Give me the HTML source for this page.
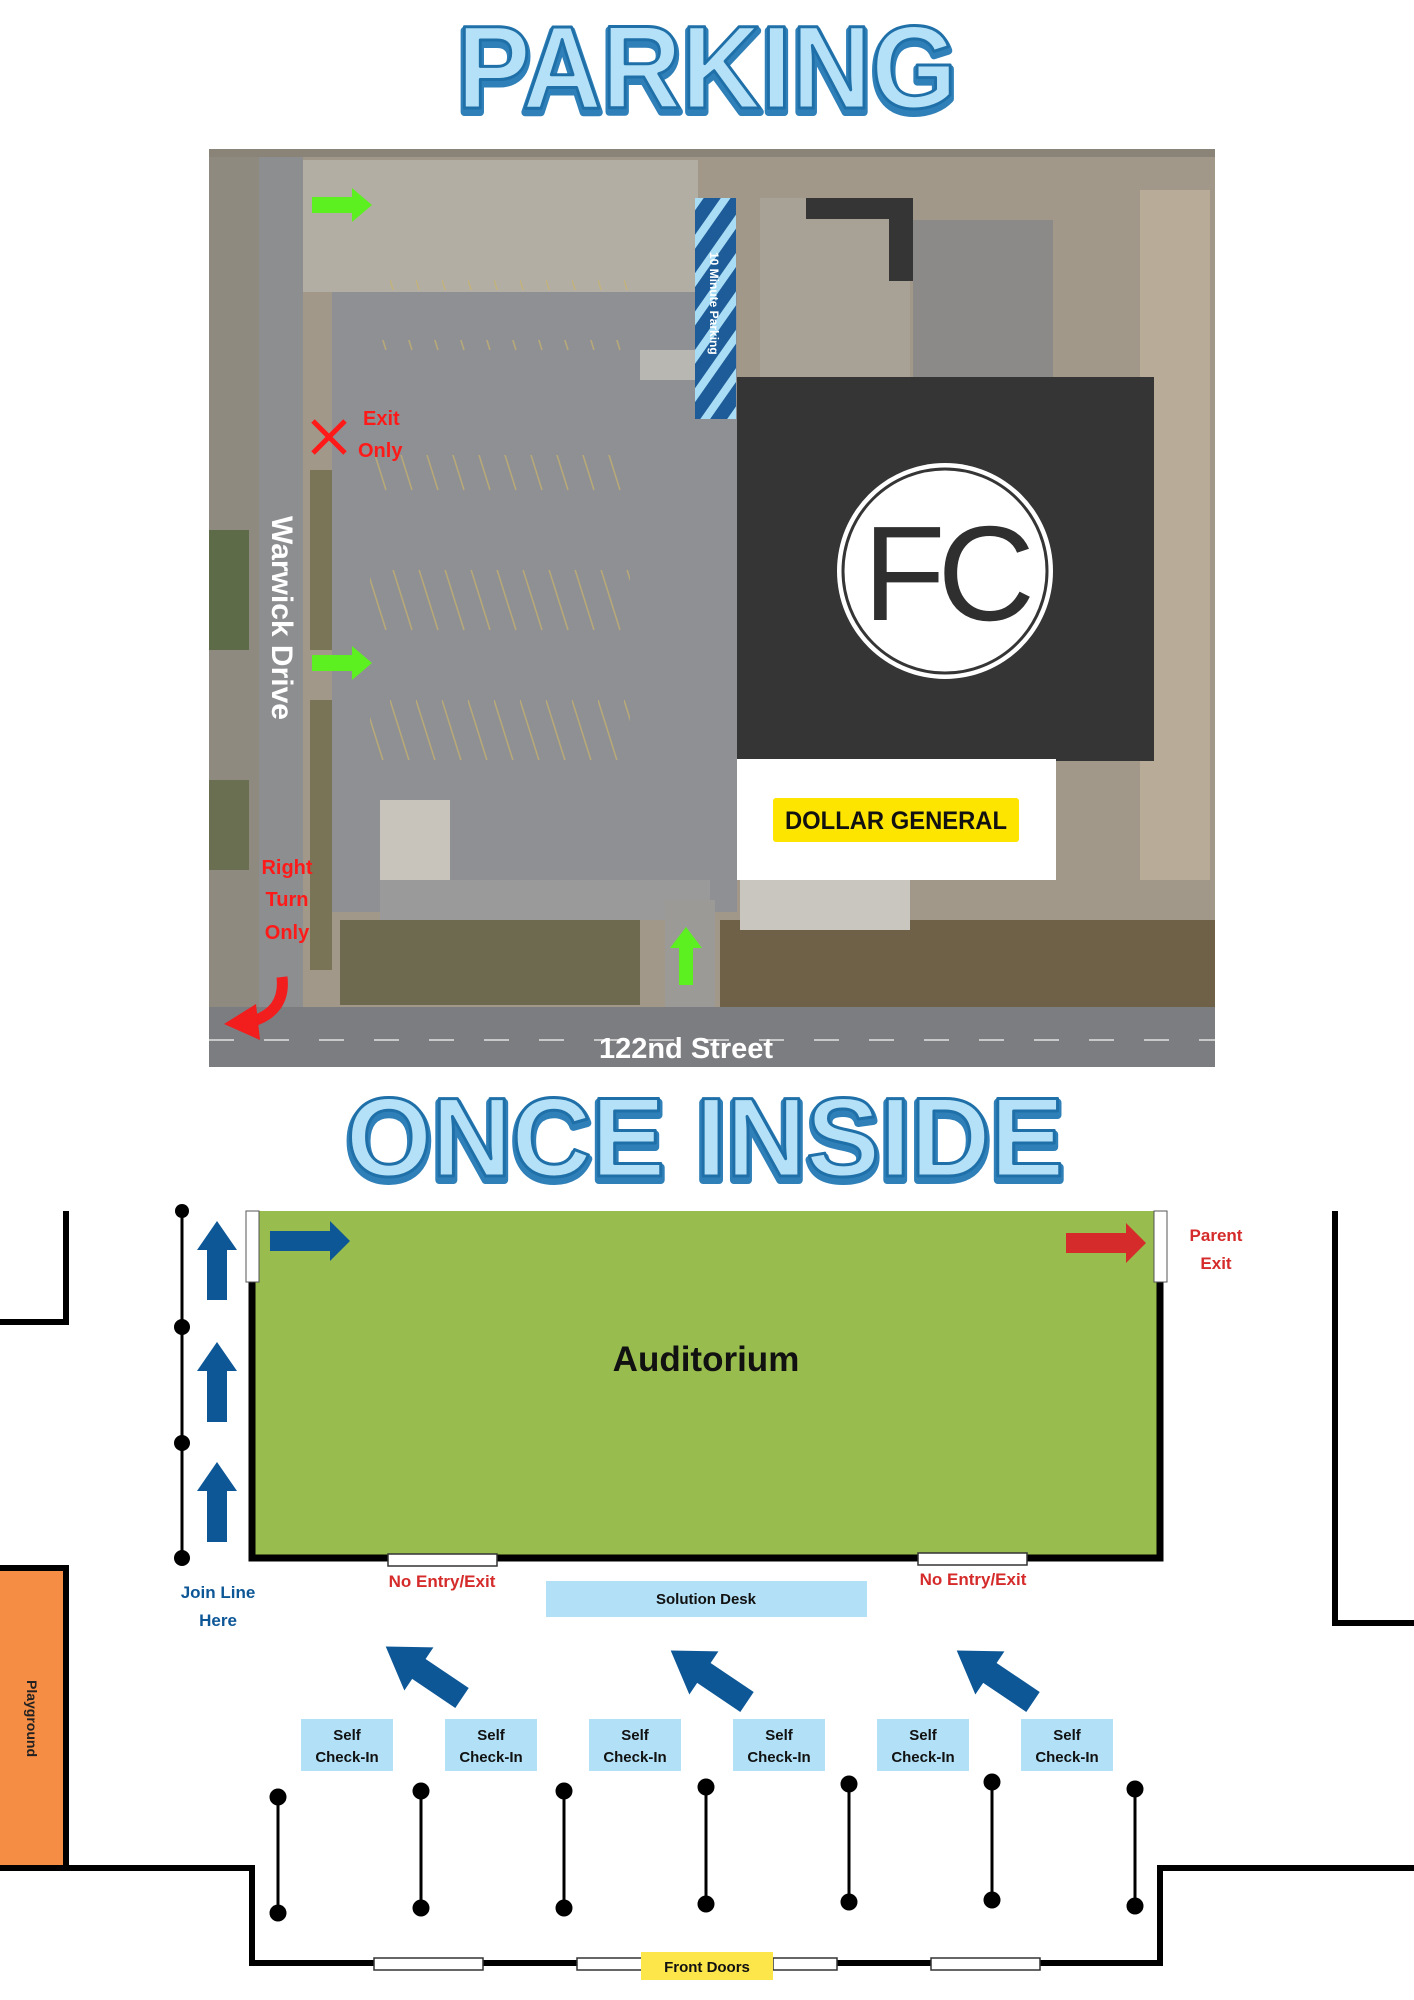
<!DOCTYPE html>
<html><head><meta charset="utf-8"><style>
html,body{margin:0;padding:0;background:#fff;}
svg{display:block;}
</style></head><body>
<svg width="1414" height="2000" viewBox="0 0 1414 2000" xmlns="http://www.w3.org/2000/svg" font-family="Liberation Sans, DejaVu Sans, sans-serif">
<defs>
<pattern id="hatch" width="22" height="22" patternUnits="userSpaceOnUse" patternTransform="rotate(35)">
<rect width="22" height="22" fill="#1d5c98"/><rect width="8" height="22" fill="#a9dcf5"/>
</pattern>
<pattern id="stalls" width="26" height="140" patternUnits="userSpaceOnUse">
<line x1="0" y1="0" x2="22" y2="70" stroke="#c9b36a" stroke-width="1.5" opacity="0.7"/>
</pattern>
</defs>

<!-- Title PARKING -->
<text x="707" y="112" text-anchor="middle" font-size="118" font-weight="bold" textLength="500" lengthAdjust="spacingAndGlyphs" fill="#2f80b8" stroke="#2f80b8" stroke-width="8" stroke-linejoin="round">PARKING</text>
<text x="707" y="108" text-anchor="middle" font-size="118" font-weight="bold" textLength="500" lengthAdjust="spacingAndGlyphs" fill="#b4e1f7" stroke="#1f6fa8" stroke-width="3" stroke-linejoin="round">PARKING</text>

<!-- Aerial -->
<g>
<rect x="209" y="149" width="1006" height="918" fill="#a2988a"/>
<rect x="209" y="149" width="50" height="860" fill="#8e8a80"/>
<rect x="209" y="530" width="40" height="120" fill="#5d6b48"/>
<rect x="209" y="780" width="40" height="90" fill="#6a6f52"/>
<rect x="259" y="149" width="44" height="860" fill="#8d8e90"/>
<rect x="303" y="160" width="395" height="132" fill="#b3aea4"/>
<rect x="332" y="292" width="405" height="620" fill="#8f9093"/>
<rect x="380" y="880" width="330" height="40" fill="#9a9a9a"/>
<rect x="310" y="470" width="22" height="180" fill="#7b7558"/>
<rect x="310" y="700" width="22" height="270" fill="#7a7456"/>
<rect x="340" y="920" width="300" height="85" fill="#6e6a4f"/>
<rect x="720" y="920" width="495" height="90" fill="#6f6048"/>
<rect x="665" y="900" width="50" height="110" fill="#9b9a96"/>
<rect x="760" y="198" width="150" height="180" fill="#a7a196"/>
<rect x="913" y="220" width="140" height="158" fill="#8c8a88"/>
<rect x="1140" y="190" width="70" height="690" fill="#b8ab98"/>
<rect x="740" y="880" width="170" height="50" fill="#c9c6c0"/>
<rect x="380" y="800" width="70" height="80" fill="#c8c4bc"/>
<rect x="640" y="350" width="60" height="30" fill="#b9b7b2"/>
<rect x="370" y="340" width="260" height="70" fill="url(#stalls)"/>
<rect x="370" y="455" width="260" height="70" fill="url(#stalls)"/>
<rect x="370" y="570" width="260" height="70" fill="url(#stalls)"/>
<rect x="370" y="690" width="260" height="70" fill="url(#stalls)"/>
<rect x="370" y="230" width="260" height="60" fill="url(#stalls)"/>
<rect x="209" y="1007" width="1006" height="60" fill="#7c7d80"/>
<line x1="209" y1="1040" x2="1215" y2="1040" stroke="#c9c9c9" stroke-width="2" stroke-dasharray="25 30"/>
<rect x="209" y="149" width="1006" height="8" fill="#8a8478"/>
</g>

<!-- hatched strip -->
<rect x="695" y="198" width="41" height="221" fill="url(#hatch)"/>
<text transform="translate(710,252) rotate(90)" font-size="12" font-weight="bold" fill="#fff">10 Minute Parking</text>

<!-- Black L -->
<rect x="806" y="198" width="107" height="21" fill="#353535"/>
<rect x="889" y="198" width="24" height="83" fill="#353535"/>

<!-- FC building -->
<rect x="737" y="377" width="417" height="384" fill="#353535"/>
<circle cx="945" cy="571" r="108" fill="#fff"/>
<circle cx="945" cy="571" r="102" fill="none" stroke="#353535" stroke-width="3"/>
<text x="945" y="620" text-anchor="middle" font-size="135" fill="#2f2f2f" letter-spacing="-8">FC</text>

<!-- Dollar General -->
<rect x="737" y="759" width="319" height="121" fill="#fff"/>
<rect x="773" y="798" width="246" height="44" rx="3" fill="#fde500"/>
<text x="896" y="829" text-anchor="middle" font-size="25" font-weight="bold" fill="#111" textLength="222" lengthAdjust="spacingAndGlyphs">DOLLAR GENERAL</text>

<!-- green arrows -->
<polygon points="312,197 352,197 352,188 372,205 352,222 352,213 312,213" fill="#5cf021"/>
<polygon points="312,655 352,655 352,646 372,663 352,680 352,671 312,671" fill="#5cf021"/>
<polygon points="679,985 679,948 670,948 686,927 702,948 693,948 693,985" fill="#5cf021"/>

<!-- Exit only -->
<line x1="313" y1="421" x2="345" y2="453" stroke="#ff1a1a" stroke-width="5"/>
<line x1="345" y1="421" x2="313" y2="453" stroke="#ff1a1a" stroke-width="5"/>
<g font-size="20" font-weight="bold" fill="#ff1a1a">
<text x="363" y="425">Exit</text>
<text x="358" y="457">Only</text>
<text x="287" y="874" text-anchor="middle">Right</text>
<text x="287" y="906" text-anchor="middle">Turn</text>
<text x="287" y="939" text-anchor="middle">Only</text>
</g>
<text transform="translate(272,516) rotate(90)" font-size="30" font-weight="bold" fill="#fff">Warwick Drive</text>
<text x="686" y="1058" text-anchor="middle" font-size="29" font-weight="bold" fill="#fff">122nd Street</text>
<!-- red curved arrow -->
<path d="M282,977 Q286,1012 250,1022" fill="none" stroke="#f21d1d" stroke-width="11"/>
<polygon points="224,1024 256,1004 260,1040" fill="#f21d1d"/>

<!-- Title ONCE INSIDE -->
<text x="705" y="1180" text-anchor="middle" font-size="112" font-weight="bold" textLength="718" lengthAdjust="spacingAndGlyphs" fill="#2f80b8" stroke="#2f80b8" stroke-width="8" stroke-linejoin="round">ONCE INSIDE</text>
<text x="705" y="1176" text-anchor="middle" font-size="112" font-weight="bold" textLength="718" lengthAdjust="spacingAndGlyphs" fill="#b4e1f7" stroke="#1f6fa8" stroke-width="3" stroke-linejoin="round">ONCE INSIDE</text>

<!-- Floor plan walls -->
<g fill="none" stroke="#000" stroke-width="6">
<polyline points="66,1211 66,1322 0,1322"/>
<polyline points="0,1868 252,1868 252,1963 1160,1963 1160,1868 1414,1868"/>
<polyline points="1335,1211 1335,1623 1414,1623"/>
</g>
<rect x="0" y="1569" width="63" height="296" fill="#f68d44"/>
<polyline points="0,1568 66,1568 66,1868" fill="none" stroke="#000" stroke-width="6"/>
<text transform="translate(27,1680) rotate(90)" font-size="14" font-weight="bold" fill="#222">Playground</text>

<!-- Auditorium -->
<rect x="252" y="1211" width="908" height="347" fill="#98bc4d"/>
<polyline points="252,1282 252,1558 1160,1558 1160,1282" fill="none" stroke="#000" stroke-width="7"/>
<rect x="246" y="1211" width="13" height="71" fill="#fff" stroke="#555" stroke-width="1"/>
<rect x="1154" y="1211" width="13" height="71" fill="#fff" stroke="#555" stroke-width="1"/>
<rect x="388" y="1554" width="109" height="12" fill="#fff" stroke="#333" stroke-width="1.5"/>
<rect x="918" y="1553" width="109" height="12" fill="#fff" stroke="#333" stroke-width="1.5"/>
<text x="706" y="1371" text-anchor="middle" font-size="35" font-weight="bold" fill="#111">Auditorium</text>

<!-- arrows in auditorium -->
<polygon points="270,1231 330,1231 330,1221 350,1241 330,1261 330,1251 270,1251" fill="#0d5797"/>
<polygon points="1066,1233 1126,1233 1126,1223 1146,1243 1126,1263 1126,1253 1066,1253" fill="#d52b2b"/>
<g font-size="17" font-weight="bold" fill="#d52b2b">
<text x="1216" y="1241" text-anchor="middle">Parent</text>
<text x="1216" y="1269" text-anchor="middle">Exit</text>
<text x="442" y="1587" text-anchor="middle">No Entry/Exit</text>
<text x="973" y="1585" text-anchor="middle">No Entry/Exit</text>
</g>

<!-- queue line left -->
<line x1="182" y1="1211" x2="182" y2="1558" stroke="#000" stroke-width="3"/>
<g fill="#000">
<circle cx="182" cy="1211" r="7"/><circle cx="182" cy="1327" r="8"/><circle cx="182" cy="1443" r="8"/><circle cx="182" cy="1558" r="8"/>
</g>
<g fill="#0d5797">
<polygon points="207,1300 207,1250 197,1250 217,1221 237,1250 227,1250 227,1300"/>
<polygon points="207,1422 207,1371 197,1371 217,1342 237,1371 227,1371 227,1422"/>
<polygon points="207,1542 207,1491 197,1491 217,1462 237,1491 227,1491 227,1542"/>
</g>
<g font-size="17" font-weight="bold" fill="#0d5797">
<text x="218" y="1598" text-anchor="middle">Join Line</text>
<text x="218" y="1626" text-anchor="middle">Here</text>
</g>

<!-- Solution Desk -->
<rect x="546" y="1581" width="321" height="36" fill="#b1e0f7"/>
<text x="706" y="1604" text-anchor="middle" font-size="15" font-weight="bold" fill="#111">Solution Desk</text>

<!-- diagonal arrows -->
<g fill="#0d5797">
<polygon points="0,-12 52,-12 52,-26 92,0 52,26 52,12 0,12" transform="translate(462,1698) rotate(-146)"/>
<polygon points="0,-12 52,-12 52,-26 92,0 52,26 52,12 0,12" transform="translate(747,1702) rotate(-146)"/>
<polygon points="0,-12 52,-12 52,-26 92,0 52,26 52,12 0,12" transform="translate(1033,1702) rotate(-146)"/>
</g>

<!-- Self check-in -->
<g font-size="15" font-weight="bold" fill="#111" text-anchor="middle">
<rect x="301" y="1719" width="92" height="52" fill="#b1e0f7"/><text x="347" y="1740">Self</text><text x="347" y="1762">Check-In</text>
<rect x="445" y="1719" width="92" height="52" fill="#b1e0f7"/><text x="491" y="1740">Self</text><text x="491" y="1762">Check-In</text>
<rect x="589" y="1719" width="92" height="52" fill="#b1e0f7"/><text x="635" y="1740">Self</text><text x="635" y="1762">Check-In</text>
<rect x="733" y="1719" width="92" height="52" fill="#b1e0f7"/><text x="779" y="1740">Self</text><text x="779" y="1762">Check-In</text>
<rect x="877" y="1719" width="92" height="52" fill="#b1e0f7"/><text x="923" y="1740">Self</text><text x="923" y="1762">Check-In</text>
<rect x="1021" y="1719" width="92" height="52" fill="#b1e0f7"/><text x="1067" y="1740">Self</text><text x="1067" y="1762">Check-In</text>
</g>

<!-- stanchions -->
<g stroke="#000" stroke-width="3" fill="#000">
<line x1="278" y1="1797" x2="278" y2="1913"/><circle cx="278" cy="1797" r="7"/><circle cx="278" cy="1913" r="7"/>
<line x1="421" y1="1791" x2="421" y2="1908"/><circle cx="421" cy="1791" r="7"/><circle cx="421" cy="1908" r="7"/>
<line x1="564" y1="1791" x2="564" y2="1908"/><circle cx="564" cy="1791" r="7"/><circle cx="564" cy="1908" r="7"/>
<line x1="706" y1="1787" x2="706" y2="1904"/><circle cx="706" cy="1787" r="7"/><circle cx="706" cy="1904" r="7"/>
<line x1="849" y1="1784" x2="849" y2="1902"/><circle cx="849" cy="1784" r="7"/><circle cx="849" cy="1902" r="7"/>
<line x1="992" y1="1782" x2="992" y2="1900"/><circle cx="992" cy="1782" r="7"/><circle cx="992" cy="1900" r="7"/>
<line x1="1135" y1="1789" x2="1135" y2="1906"/><circle cx="1135" cy="1789" r="7"/><circle cx="1135" cy="1906" r="7"/>
</g>

<!-- front doors -->
<g fill="#fff" stroke="#333" stroke-width="1.5">
<rect x="374" y="1958" width="109" height="12"/>
<rect x="577" y="1958" width="66" height="12"/>
<rect x="773" y="1958" width="64" height="12"/>
<rect x="931" y="1958" width="109" height="12"/>
</g>
<rect x="641" y="1952" width="132" height="28" fill="#fde64a"/>
<text x="707" y="1972" text-anchor="middle" font-size="15" font-weight="bold" fill="#111">Front Doors</text>
</svg>
</body></html>
